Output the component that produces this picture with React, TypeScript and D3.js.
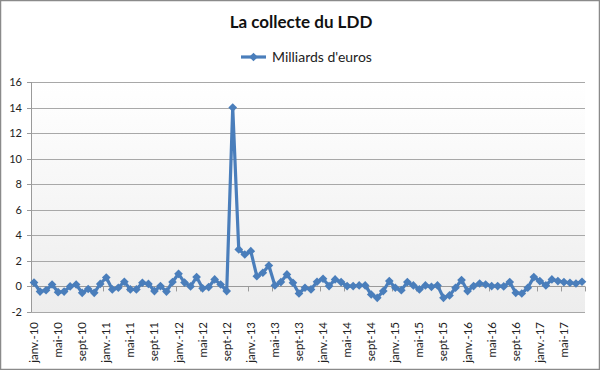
import React, { useEffect, useRef } from "react";
import * as d3 from "d3";

const monthNames = ["janv.", "févr.", "mars", "avr.", "mai", "juin", "juil.", "août", "sept.", "oct.", "nov.", "déc."];
const labelNames = ["janv.", "", "", "", "mai", "", "", "", "sept", "", "", ""];
const startYear = 2010;
const values = [
  0.3, -0.4, -0.3, 0.15, -0.45, -0.4, 0.0, 0.15, -0.5, -0.2, -0.5, 0.2,
  0.7, -0.23, -0.1, 0.37, -0.23, -0.23, 0.29, 0.2, -0.36, 0.03, -0.4, 0.35,
  0.99, 0.3, 0.0, 0.73, -0.15, -0.05, 0.55, 0.15, -0.36, 14.0, 2.9, 2.5,
  2.76, 0.8, 1.07, 1.64, 0.08, 0.34, 0.94, 0.29, -0.55, -0.1, -0.23, 0.37,
  0.6, 0.03, 0.55, 0.34, 0.03, 0.03, 0.08, 0.08, -0.63, -0.89, -0.36, 0.42,
  -0.1, -0.29, 0.34, 0.08, -0.23, 0.08, -0.03, 0.08, -0.89, -0.7, -0.1, 0.5,
  -0.36, 0.03, 0.23, 0.15, 0.03, 0.03, 0.0, 0.34, -0.5, -0.55, -0.1, 0.73,
  0.42, 0.08, 0.55, 0.42, 0.34, 0.29, 0.23, 0.37,
];
const categories = values.map((_, i) => {
  const m = i % 12;
  const y = startYear + Math.floor(i / 12);
  return `${monthNames[m]}-${String(y).slice(2)}`;
});
const tickLabels = values.map((_, i) => {
  const m = i % 12;
  const y = startYear + Math.floor(i / 12);
  return labelNames[m] ? `${labelNames[m]}-${String(y).slice(2)}` : "";
});
const yTicks = [-2, 0, 2, 4, 6, 8, 10, 12, 14, 16];
const title = "La collecte du LDD";
const seriesName = "Milliards d'euros";

const W = 600, H = 370;
const margin = { left: 31, right: 15, top: 82, bottom: 58 };
const color = "#4a7ebb";
const font = "Lato, 'Open Sans', sans-serif";

export default function App() {
  const ref = useRef<SVGSVGElement>(null);
  useEffect(() => {
    const svg = d3.select(ref.current);
    svg.selectAll("*").remove();
    const x0 = margin.left, x1 = W - margin.right;
    const y0 = margin.top, y1 = H - margin.bottom;
    const x = d3.scaleBand<number>().domain(values.map((_, i) => i)).range([x0, x1]);
    const y = d3.scaleLinear().domain([-2, 16]).range([y1, y0]);

    const defs = svg.append("defs");
    const grad = defs.append("linearGradient").attr("id", "bg").attr("x1", 0).attr("y1", 0).attr("x2", 0).attr("y2", 1);
    grad.append("stop").attr("offset", "0%").attr("stop-color", "#ffffff");
    grad.append("stop").attr("offset", "100%").attr("stop-color", "#ededed");

    svg.append("rect").attr("x", 0.5).attr("y", 0.5).attr("width", W - 1).attr("height", H - 1)
      .attr("fill", "#fff").attr("stroke", "#8a8a8a").attr("stroke-width", 1.5);

    svg.append("rect").attr("x", x0).attr("y", y0).attr("width", x1 - x0).attr("height", y1 - y0).attr("fill", "url(#bg)");

    // gridlines
    svg.append("g").selectAll("line").data(yTicks).join("line")
      .attr("x1", x0).attr("x2", x1)
      .attr("y1", d => Math.round(y(d)) + 0.5).attr("y2", d => Math.round(y(d)) + 0.5)
      .attr("stroke", d => (d === 0 ? "#9a9a9a" : "#a8a8a8")).attr("stroke-width", 1);

    // y axis
    svg.append("line").attr("x1", x0 + 0.5).attr("x2", x0 + 0.5).attr("y1", y0).attr("y2", y1).attr("stroke", "#9a9a9a");
    svg.append("g").selectAll("line").data(yTicks).join("line")
      .attr("x1", x0 - 4).attr("x2", x0)
      .attr("y1", d => Math.round(y(d)) + 0.5).attr("y2", d => Math.round(y(d)) + 0.5)
      .attr("stroke", "#9a9a9a");
    svg.append("g").selectAll("text").data(yTicks).join("text")
      .attr("x", x0 - 9).attr("y", d => y(d) + 4)
      .attr("text-anchor", "end").attr("font-family", font).attr("font-size", 11).attr("fill", "#222")
      .text(d => String(d));

    // x axis ticks (category boundaries every 4)
    const bw = x.bandwidth();
    const boundaries = d3.range(0, values.length + 1, 4);
    svg.append("g").selectAll("line").data(boundaries).join("line")
      .attr("x1", k => Math.round(x0 + k * bw) + 0.5).attr("x2", k => Math.round(x0 + k * bw) + 0.5)
      .attr("y1", y(0)).attr("y2", y(0) + 5).attr("stroke", "#9a9a9a");

    // x labels
    svg.append("g").selectAll("text").data(values.map((_, i) => i).filter(i => tickLabels[i])).join("text")
      .attr("transform", i => `translate(${(x(i) as number) + bw / 2 + 4},${y1 + 10}) rotate(-90)`)
      .attr("text-anchor", "end").attr("font-family", font).attr("font-size", 11.5).attr("fill", "#222")
      .text(i => tickLabels[i]);

    // line
    const cx = (i: number) => (x(i) as number) + bw / 2;
    const line = d3.line<number>().x((_, i) => cx(i)).y(d => y(d));
    svg.append("path").datum(values).attr("d", line).attr("fill", "none")
      .attr("stroke", color).attr("stroke-width", 3.2).attr("stroke-linejoin", "round");
    const sym = d3.symbol().type(d3.symbolDiamond2).size(48);
    svg.append("g").selectAll("path").data(values).join("path")
      .attr("transform", (d, i) => `translate(${cx(i)},${y(d)})`)
      .attr("d", sym()).attr("fill", color)
      .append("title").text((d, i) => `${categories[i]}: ${d}`);

    // title
    svg.append("text").attr("x", 301).attr("y", 28).attr("text-anchor", "middle")
      .attr("font-family", font).attr("font-weight", "bold").attr("font-size", 17).attr("fill", "#111")
      .text(title);

    // legend
    svg.append("line").attr("x1", 241).attr("x2", 266).attr("y1", 57).attr("y2", 57)
      .attr("stroke", color).attr("stroke-width", 3.2);
    svg.append("path").attr("transform", "translate(253.5,57)").attr("d", sym()).attr("fill", color);
    svg.append("text").attr("x", 272).attr("y", 62).attr("font-family", font).attr("font-size", 14).attr("fill", "#222")
      .text(seriesName);
  }, []);
  return (
    <svg ref={ref} width={W} height={H} style={{ position: "fixed", left: 0, top: 0, display: "block" }} />
  );
}
